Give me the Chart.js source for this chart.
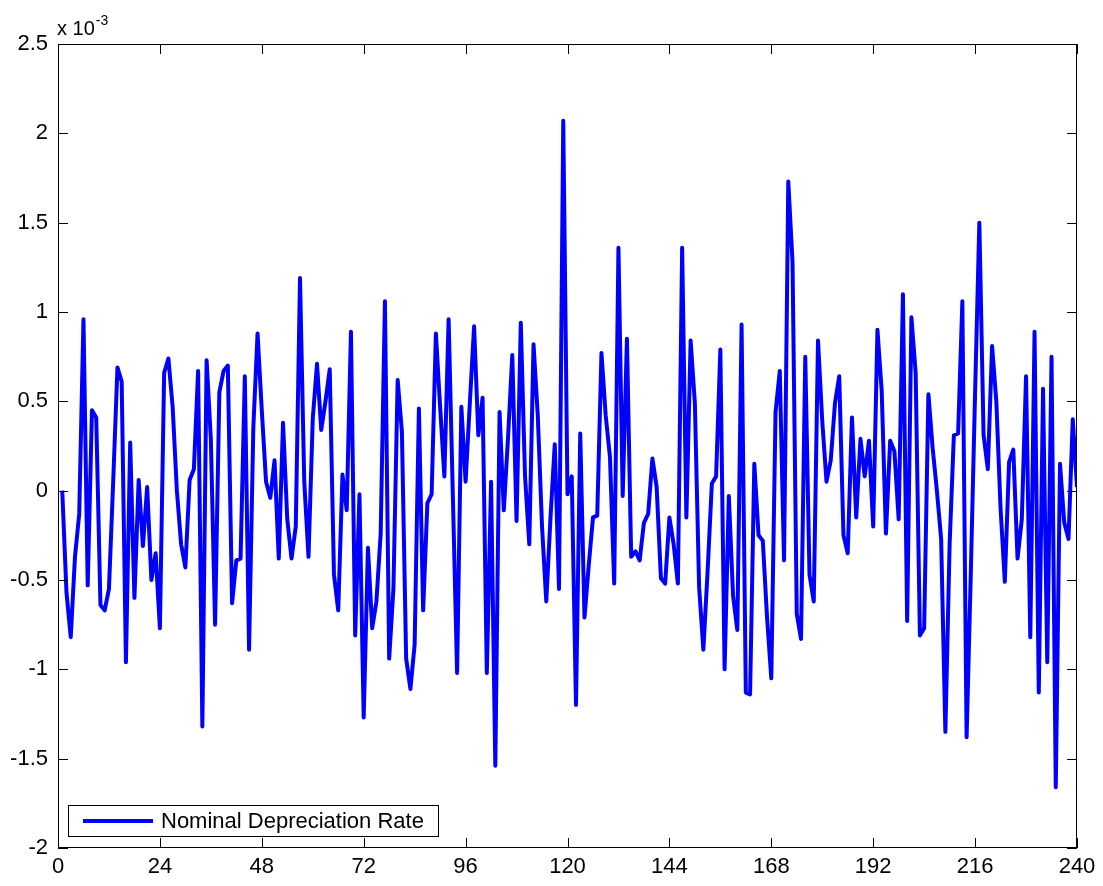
<!DOCTYPE html>
<html>
<head>
<meta charset="utf-8">
<script src="https://cdn.jsdelivr.net/npm/chart.js@4"></script>
<style>
  html, body { margin: 0; padding: 0; background: #fff; }
  canvas { display: block; }
</style>
</head>
<body>
<canvas id="chart" width="1103" height="886"></canvas>
<script>
// --- data (values in units of 10^-3) ---
const seriesLabel = 'Nominal Depreciation Rate';
const rateValues = [
   0.00, -0.57, -0.82, -0.37, -0.13,  0.96, -0.53,  0.45,  0.41, -0.64,
  -0.67, -0.55,  0.05,  0.69,  0.61, -0.96,  0.27, -0.60,  0.06, -0.31,
   0.02, -0.50, -0.35, -0.77,  0.66,  0.74,  0.47,  0.00, -0.30, -0.43,
   0.06,  0.12,  0.67, -1.32,  0.73,  0.29, -0.75,  0.55,  0.67,  0.70,
  -0.63, -0.39, -0.38,  0.64, -0.89,  0.35,  0.88,  0.45,  0.05, -0.04,
   0.17, -0.38,  0.38, -0.16, -0.38, -0.20,  1.19,  0.05, -0.37,  0.40,
   0.71,  0.34,  0.50,  0.68, -0.47, -0.67,  0.09, -0.11,  0.89, -0.81,
  -0.02, -1.27, -0.32, -0.77, -0.62, -0.24,  1.06, -0.94, -0.55,  0.62,
   0.33, -0.94, -1.11, -0.86,  0.46, -0.67, -0.07, -0.02,  0.88,  0.47,
   0.08,  0.96, -0.03, -1.02,  0.47,  0.05,  0.49,  0.92,  0.31,  0.52,
  -1.02,  0.05, -1.54,  0.44, -0.11,  0.30,  0.76, -0.17,  0.94,  0.08,
  -0.30,  0.82,  0.42, -0.20, -0.62, -0.15,  0.26, -0.55,  2.07, -0.02,
   0.08, -1.20,  0.32, -0.71, -0.42, -0.15, -0.14,  0.77,  0.42,  0.19,
  -0.52,  1.36, -0.03,  0.85, -0.37, -0.34, -0.39, -0.18, -0.13,  0.18,
   0.02, -0.49, -0.52, -0.15, -0.30, -0.52,  1.36, -0.15,  0.84,  0.49,
  -0.54, -0.89, -0.45,  0.04,  0.08,  0.79, -1.00, -0.03, -0.59, -0.78,
   0.93, -1.13, -1.14,  0.15, -0.25, -0.28, -0.71, -1.05,  0.44,  0.67,
  -0.39,  1.73,  1.28, -0.69, -0.83,  0.75, -0.47, -0.62,  0.84,  0.39,
   0.05,  0.17,  0.49,  0.64, -0.25, -0.35,  0.41, -0.15,  0.29,  0.08,
   0.28, -0.20,  0.90,  0.56, -0.24,  0.28,  0.22, -0.16,  1.10, -0.73,
   0.97,  0.66, -0.81, -0.77,  0.54,  0.24,  0.00, -0.27, -1.35, -0.30,
   0.31,  0.32,  1.06, -1.38, -0.45,  0.55,  1.50,  0.31,  0.12,  0.81,
   0.50, -0.10, -0.51,  0.16,  0.23, -0.38, -0.16,  0.64, -0.82,  0.89,
  -1.13,  0.57, -0.96,  0.75, -1.66,  0.15, -0.18, -0.27,  0.40,  0.02
];
// period index 1..240
const periods = rateValues.map((_, i) => i + 1);

const xTicks = [0, 24, 48, 72, 96, 120, 144, 168, 192, 216, 240];
const yTicks = [-2, -1.5, -1, -0.5, 0, 0.5, 1, 1.5, 2, 2.5];

const FONT = 'Liberation Sans, Arial, Helvetica, sans-serif';

// --- MATLAB-like box, inner ticks, exponent label and legend ---
const matlabAxes = {
    id: 'matlabAxes',
    afterDatasetsDraw(chart) {
        const { ctx, chartArea: a, scales: { x, y } } = chart;
        const tl = 10;
        ctx.save();
        ctx.strokeStyle = '#000';
        ctx.lineWidth = 1;
        ctx.beginPath();
        xTicks.forEach(v => {
            const px = Math.round(x.getPixelForValue(v)) + 0.5;
            ctx.moveTo(px, a.bottom); ctx.lineTo(px, a.bottom - tl);
            ctx.moveTo(px, a.top); ctx.lineTo(px, a.top + tl);
        });
        yTicks.forEach(v => {
            const py = Math.round(y.getPixelForValue(v)) + 0.5;
            ctx.moveTo(a.left, py); ctx.lineTo(a.left + tl, py);
            ctx.moveTo(a.right, py); ctx.lineTo(a.right - tl, py);
        });
        ctx.stroke();
        ctx.strokeRect(a.left + 0.5, a.top + 0.5, a.right - a.left - 1, a.bottom - a.top - 1);

        // exponent label
        ctx.fillStyle = '#000';
        ctx.textBaseline = 'alphabetic';
        ctx.textAlign = 'left';
        ctx.font = '20px ' + FONT;
        ctx.fillText('x 10', a.left - 1, 35);
        const w = ctx.measureText('x 10').width;
        ctx.font = '14px ' + FONT;
        ctx.fillText('-3', a.left - 1 + w + 1, 25);

        // legend
        const lx = a.left + 10, ly = a.bottom - 43, lw = 370, lh = 31;
        ctx.fillStyle = '#fff';
        ctx.fillRect(lx, ly, lw, lh);
        ctx.strokeRect(lx + 0.5, ly + 0.5, lw, lh);
        ctx.strokeStyle = '#0000ff';
        ctx.lineWidth = 4;
        ctx.beginPath();
        ctx.moveTo(lx + 15, ly + lh / 2 + 0.5);
        ctx.lineTo(lx + 85, ly + lh / 2 + 0.5);
        ctx.stroke();
        ctx.fillStyle = '#000';
        ctx.font = '22px ' + FONT;
        ctx.textBaseline = 'middle';
        ctx.fillText(chart.data.datasets[0].label, lx + 93, ly + lh / 2 + 1);
        ctx.restore();
    }
};

new Chart(document.getElementById('chart'), {
    type: 'line',
    data: {
        datasets: [{
            label: seriesLabel,
            data: periods.map((p, i) => ({ x: p, y: rateValues[i] })),
            borderColor: '#0000ff',
            borderWidth: 4,
            pointRadius: 0,
            tension: 0,
            borderJoinStyle: 'round',
            borderCapStyle: 'butt'
        }]
    },
    options: {
        responsive: false,
        animation: false,
        events: [],
        layout: { padding: { top: 44, right: 26, left: 0, bottom: 0 } },
        plugins: { legend: { display: false }, tooltip: { enabled: false } },
        scales: {
            x: {
                type: 'linear', min: 0, max: 240,
                afterBuildTicks: s => { s.ticks = xTicks.map(v => ({ value: v })); },
                afterFit: s => { s.height = 38; },
                grid: { display: false, drawTicks: false },
                border: { display: false },
                ticks: { color: '#000', font: { family: FONT, size: 22 }, padding: 6, maxRotation: 0, autoSkip: false }
            },
            y: {
                type: 'linear', min: -2, max: 2.5,
                afterBuildTicks: s => { s.ticks = yTicks.map(v => ({ value: v })); },
                afterFit: s => { s.width = 58; },
                grid: { display: false, drawTicks: false },
                border: { display: false },
                ticks: { color: '#000', font: { family: FONT, size: 22 }, padding: 10, callback: v => String(v) }
            }
        }
    },
    plugins: [matlabAxes]
});
</script>
</body>
</html>
